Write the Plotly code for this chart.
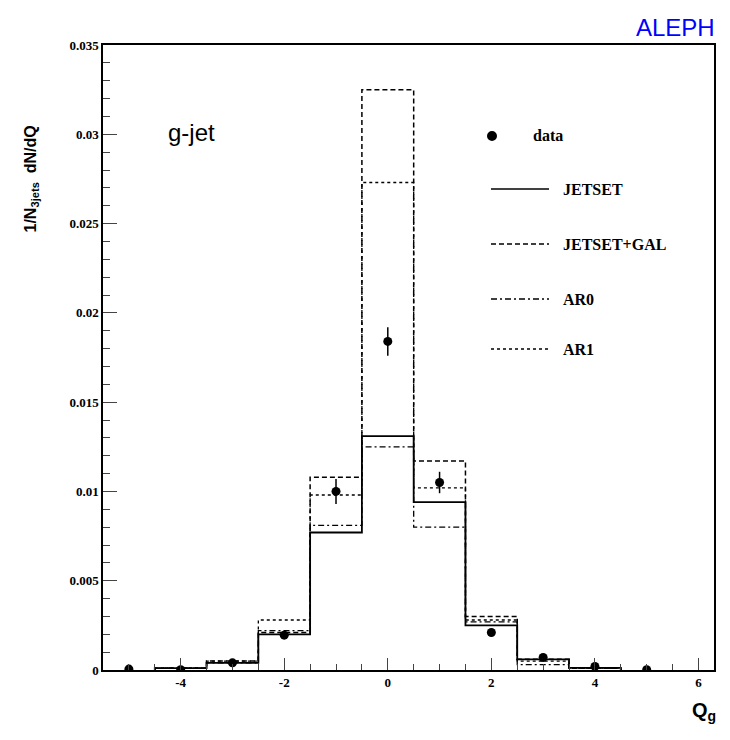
import plotly.graph_objects as go

centers = [-4, -3, -2, -1, 0, 1, 2, 3, 4]
jetset     = [0.0001, 0.0004, 0.0020, 0.0077, 0.0131, 0.0094, 0.0025, 0.0006, 0.00012]
jetset_gal = [0.0001, 0.0005, 0.0021, 0.0108, 0.0325, 0.0117, 0.0030, 0.0006, 0.0001]
ar0        = [0.0001, 0.0004, 0.0022, 0.0081, 0.0125, 0.0080, 0.0027, 0.0003, 0.0001]
ar1        = [0.0001, 0.0005, 0.0028, 0.0098, 0.0273, 0.0102, 0.0028, 0.0005, 0.0001]
data_x   = [-5, -4, -3, -2, -1, 0, 1, 2, 3, 4, 5]
data_y   = [0.00005, 0.00002, 0.0004, 0.00195, 0.0100, 0.0184, 0.0105, 0.0021, 0.0007, 0.0002, 0.00002]
data_err = [0.00005, 0.00005, 0.0001, 0.0002, 0.0007, 0.0008, 0.0006, 0.0002, 0.0001, 0.00005, 0.00003]
xticks = [-4, -2, 0, 2, 4, 6]
yticks = [0, 0.005, 0.01, 0.015, 0.02, 0.025, 0.03, 0.035]
ylabels = ['0', '0.005', '0.01', '0.015', '0.02', '0.025', '0.03', '0.035']

DASH = '5px,3px'
DASHDOT = '6px,3px,2px,3px'

def steps(c, v):
    xs, ys = [c[0]-0.5], [0]
    for ci, vi in zip(c, v):
        xs += [ci-0.5, ci+0.5]
        ys += [vi, vi]
    xs.append(c[-1]+0.5); ys.append(0)
    return xs, ys

fig = go.Figure()
for vals, dash, w in [(jetset_gal, DASH, 1.5), (ar0, DASHDOT, 1.3), (ar1, 'dot', 1.3), (jetset, 'solid', 1.8)]:
    xs, ys = steps(centers, vals)
    fig.add_trace(go.Scatter(x=xs, y=ys, mode='lines', line=dict(color='black', width=w, dash=dash), showlegend=False))
fig.add_trace(go.Scatter(x=data_x, y=data_y, mode='markers', marker=dict(color='black', size=9),
                         error_y=dict(type='data', array=data_err, color='black', thickness=1.5, width=0), showlegend=False))

tf = dict(family='Times New Roman, Liberation Serif, serif', size=13, color='black')
fig.update_xaxes(range=[-5.5, 6.3], tickvals=xticks, ticktext=['<b>%d</b>' % t for t in xticks], ticks='inside', ticklen=12,
                 minor=dict(dtick=0.5, ticks='inside', ticklen=6, tick0=0), showgrid=False, zeroline=False,
                 showline=True, linecolor='black', linewidth=1.5, mirror=True, tickfont=tf)
fig.update_yaxes(range=[0, 0.035], tickvals=yticks, ticktext=['<b>%s</b>' % t for t in ylabels],
                 ticks='inside', ticklen=14, minor=dict(dtick=0.001, ticks='inside', ticklen=7),
                 showgrid=False, zeroline=False, showline=True, linecolor='black', linewidth=1.5, mirror=True, tickfont=tf)

L, R, T, B = 102, 713, 46, 671
OX, OY = 7, 9
def px(x): return (x - L) / (R - L)
def py(y): return (B - y) / (B - T)

lt = dict(family='Times New Roman, Liberation Serif, serif', size=16, color='black')
anns = [
    dict(x=px(716), y=py(28), text='ALEPH', font=dict(family='Arial, Liberation Sans', size=24, color='blue'), xanchor='right', yanchor='middle', showarrow=False),
    dict(x=px(165), y=py(133), text='g-jet', font=dict(family='Arial, Liberation Sans', size=24, color='black'), xanchor='left', yanchor='middle', showarrow=False),
    dict(x=px(30), y=py(125), text='<b>1/N<sub>3jets</sub>  dN/dQ</b>', textangle=-90, font=dict(family='Arial, Liberation Sans', size=16, color='black'), xanchor='center', yanchor='top', showarrow=False),
    dict(x=px(717), y=py(712), text='<b>Q<sub>g</sub></b>', font=dict(family='Arial, Liberation Sans', size=20, color='black'), xanchor='right', yanchor='middle', showarrow=False),
]
shapes = [dict(type='circle', xref='paper', yref='paper', x0=px(487), x1=px(495), y0=py(141), y1=py(133), fillcolor='black', line=dict(color='black'))]
items = [('data', None, 137), ('JETSET', 'solid', 190), ('JETSET+GAL', DASH, 245), ('AR0', DASHDOT, 300), ('AR1', 'dot', 350)]
for name, dash, yp in items:
    anns.append(dict(x=px(560) if dash else px(530), y=py(yp), text='<b>%s</b>' % name, font=lt, xanchor='left', yanchor='middle', showarrow=False))
    if dash:
        shapes.append(dict(type='line', xref='paper', yref='paper', x0=px(490), x1=px(548), y0=py(yp), y1=py(yp), line=dict(color='black', width=1.5, dash=dash)))
for a in anns:
    a.setdefault('xref', 'paper'); a.setdefault('yref', 'paper')

fig.update_layout(width=730, height=740, margin=dict(l=L-OX, r=730-R+OX, t=T-OY, b=740-B+OY, autoexpand=False),
                  plot_bgcolor='white', paper_bgcolor='white', annotations=anns, shapes=shapes)
fig.write_html('out.html')
